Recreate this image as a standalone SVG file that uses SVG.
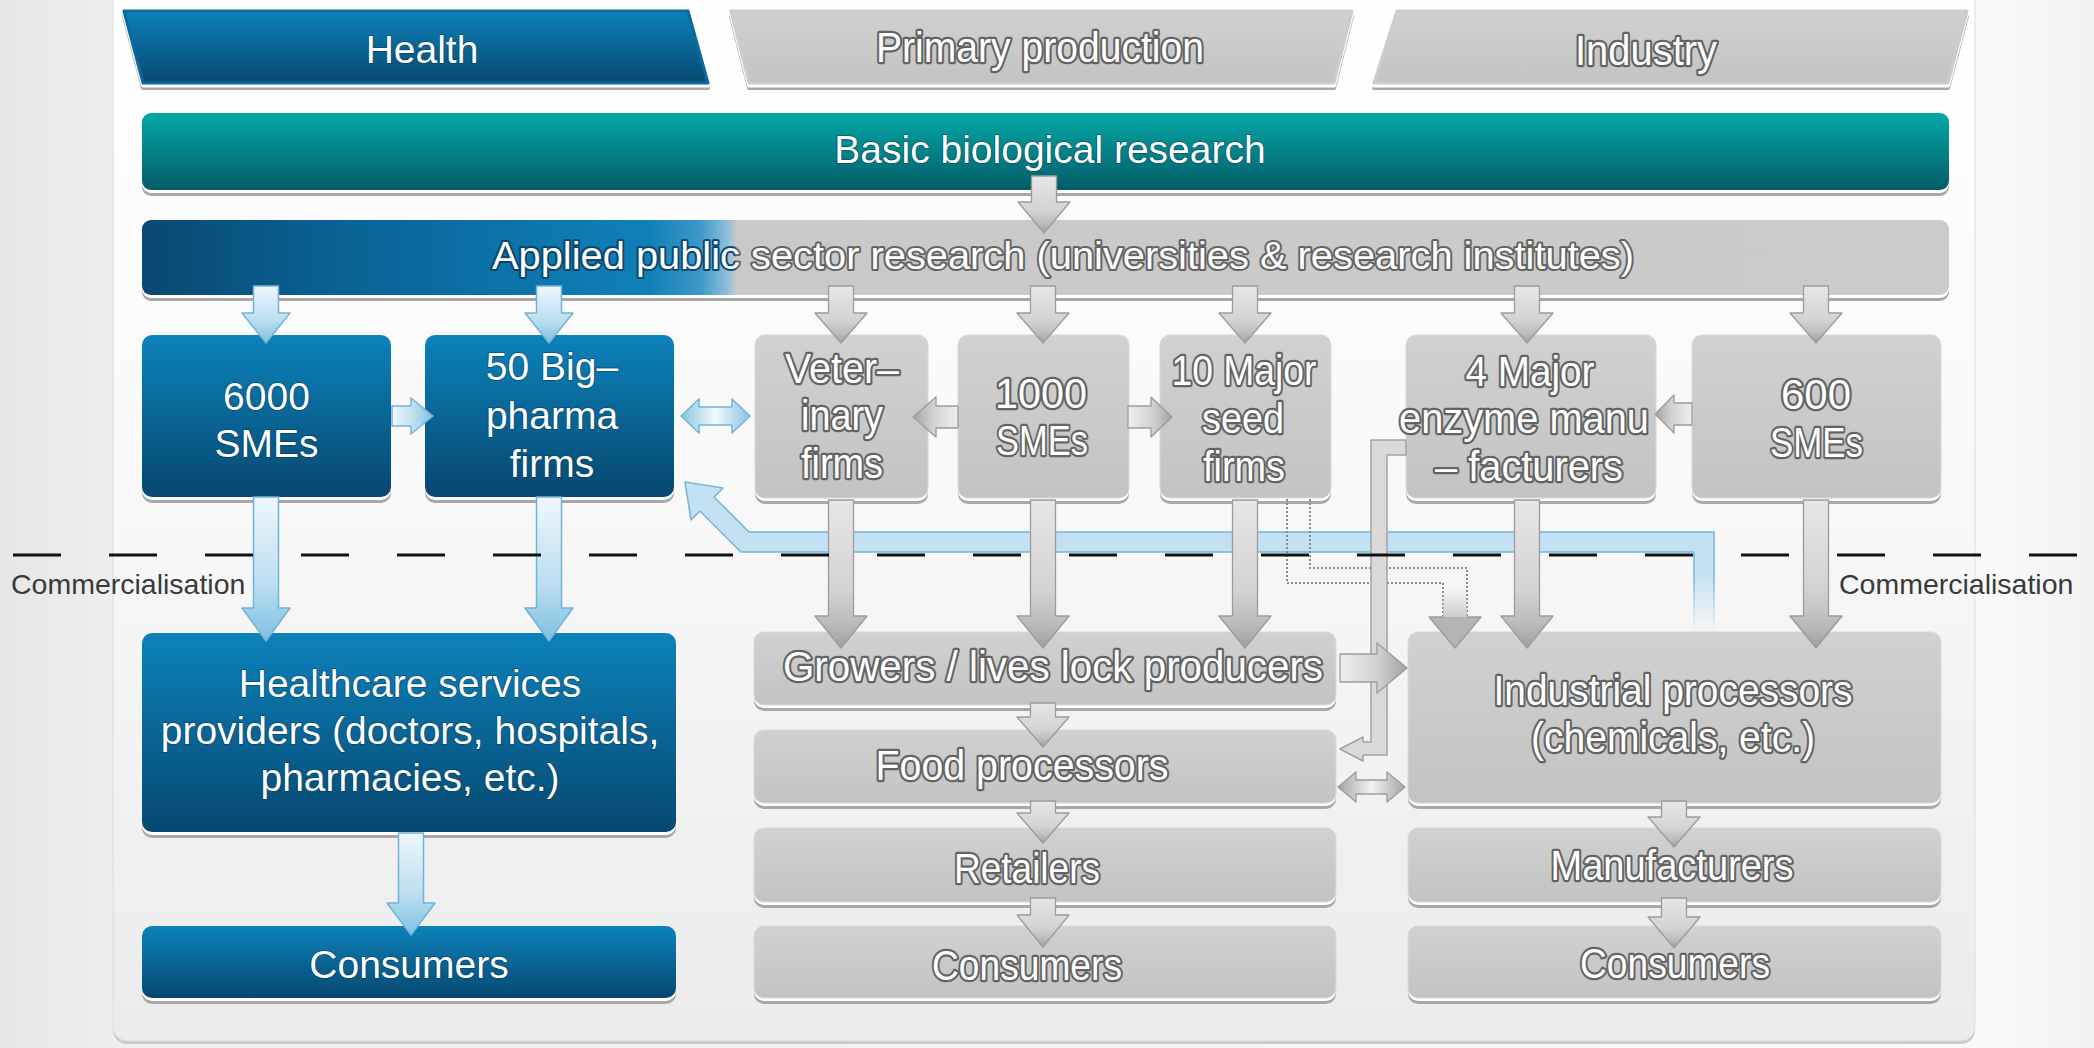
<svg xmlns="http://www.w3.org/2000/svg" width="2094" height="1048" viewBox="0 0 2094 1048">
  <defs>
    <style>
      .lbl{font-family:"Liberation Sans",Arial,"Noto Sans CJK KR",sans-serif;font-size:39px;text-anchor:middle}
      .wt{fill:#ffffff;stroke:#04324f;stroke-opacity:0.55;stroke-width:1.6px;paint-order:stroke;stroke-linejoin:round}
      .gt{fill:#ffffff;stroke:#636363;stroke-width:4.5px;stroke-linejoin:round;paint-order:stroke;font-size:42px}
      .com{font-family:"Liberation Sans",Arial,sans-serif;font-size:28.5px;fill:#3a3a3a}
      .shg{fill:#a8a8a8}
      .shw{fill:#ffffff}
      .gbox{fill:url(#gray);stroke:#d8d8d8;stroke-width:1}
      .bbox{fill:url(#blue)}
      .ab{stroke:#74b3d9;stroke-width:1.5;stroke-linejoin:round}
      .ag{stroke:#9c9c9c;stroke-width:1.3;stroke-linejoin:round}
    </style>
    <linearGradient id="bg" x1="0" y1="0" x2="1" y2="0">
      <stop offset="0" stop-color="#e6e6e6"/>
      <stop offset="0.055" stop-color="#eeeeee"/>
      <stop offset="0.95" stop-color="#fafafa"/>
      <stop offset="1" stop-color="#f2f2f2"/>
    </linearGradient>
    <linearGradient id="panel" x1="0" y1="0" x2="0" y2="1">
      <stop offset="0" stop-color="#ffffff"/>
      <stop offset="0.5" stop-color="#f8f8f8"/>
      <stop offset="1" stop-color="#ebebeb"/>
    </linearGradient>
    <linearGradient id="blue" x1="0" y1="0" x2="0" y2="1">
      <stop offset="0" stop-color="#0c82bb"/>
      <stop offset="1" stop-color="#064870"/>
    </linearGradient>
    <linearGradient id="teal" x1="0" y1="0" x2="0" y2="1">
      <stop offset="0" stop-color="#03a8a6"/>
      <stop offset="1" stop-color="#055c69"/>
    </linearGradient>
    <linearGradient id="gray" x1="0" y1="0" x2="0" y2="1">
      <stop offset="0" stop-color="#d1d1d1"/>
      <stop offset="1" stop-color="#c3c3c3"/>
    </linearGradient>
    <linearGradient id="applied" gradientUnits="userSpaceOnUse" x1="142" y1="0" x2="1949" y2="0">
      <stop offset="0" stop-color="#0a4870"/>
      <stop offset="0.087" stop-color="#0a5d8e"/>
      <stop offset="0.18" stop-color="#0b6fa5"/>
      <stop offset="0.28" stop-color="#1080b8"/>
      <stop offset="0.309" stop-color="#3d98c7"/>
      <stop offset="0.324" stop-color="#8ebfda"/>
      <stop offset="0.329" stop-color="#c9c9c9"/>
      <stop offset="1" stop-color="#cbcbcb"/>
    </linearGradient>
    <!-- outline of the applied-research label: dark over the blue part, grey over the rest -->
    <linearGradient id="appliedInk" gradientUnits="userSpaceOnUse" x1="142" y1="0" x2="1949" y2="0">
      <stop offset="0" stop-color="#083a5c"/>
      <stop offset="0.328" stop-color="#0b4a72"/>
      <stop offset="0.329" stop-color="#636363"/>
      <stop offset="1" stop-color="#636363"/>
    </linearGradient>
    <!-- arrow fills -->
    <linearGradient id="abV" x1="0" y1="0" x2="0" y2="1">
      <stop offset="0" stop-color="#eef7fc"/>
      <stop offset="0.6" stop-color="#bcdef0"/>
      <stop offset="1" stop-color="#7fc0e2"/>
    </linearGradient>
    <linearGradient id="abH" x1="0" y1="0" x2="1" y2="0">
      <stop offset="0" stop-color="#eef7fc"/>
      <stop offset="0.55" stop-color="#bcdef0"/>
      <stop offset="1" stop-color="#7fc0e2"/>
    </linearGradient>
    <linearGradient id="abD" x1="0" y1="0" x2="1" y2="0">
      <stop offset="0" stop-color="#86c3e3"/>
      <stop offset="0.5" stop-color="#f2f9fd"/>
      <stop offset="1" stop-color="#86c3e3"/>
    </linearGradient>
    <linearGradient id="agV" x1="0" y1="0" x2="0" y2="1">
      <stop offset="0" stop-color="#e6e6e6"/>
      <stop offset="0.6" stop-color="#d3d3d3"/>
      <stop offset="0.82" stop-color="#bdbdbd"/>
      <stop offset="1" stop-color="#9f9f9f"/>
    </linearGradient>
    <linearGradient id="agR" x1="0" y1="0" x2="1" y2="0">
      <stop offset="0" stop-color="#eeeeee"/>
      <stop offset="0.55" stop-color="#d2d2d2"/>
      <stop offset="1" stop-color="#a2a2a2"/>
    </linearGradient>
    <linearGradient id="agL" x1="1" y1="0" x2="0" y2="0">
      <stop offset="0" stop-color="#eeeeee"/>
      <stop offset="0.55" stop-color="#d2d2d2"/>
      <stop offset="1" stop-color="#a2a2a2"/>
    </linearGradient>
    <linearGradient id="agD" x1="0" y1="0" x2="1" y2="0">
      <stop offset="0" stop-color="#a4a4a4"/>
      <stop offset="0.5" stop-color="#f2f2f2"/>
      <stop offset="1" stop-color="#a4a4a4"/>
    </linearGradient>
    <linearGradient id="bandFill" gradientUnits="userSpaceOnUse" x1="0" y1="572" x2="0" y2="630">
      <stop offset="0" stop-color="#c3e1f3" stop-opacity="1"/>
      <stop offset="1" stop-color="#c3e1f3" stop-opacity="0"/>
    </linearGradient>
    <linearGradient id="bandLine" gradientUnits="userSpaceOnUse" x1="0" y1="572" x2="0" y2="630">
      <stop offset="0" stop-color="#76b6dc" stop-opacity="1"/>
      <stop offset="1" stop-color="#76b6dc" stop-opacity="0"/>
    </linearGradient>
    <linearGradient id="fadeShaft" gradientUnits="userSpaceOnUse" x1="0" y1="586" x2="0" y2="620">
      <stop offset="0" stop-color="#d6d6d6" stop-opacity="0"/>
      <stop offset="1" stop-color="#c4c4c4" stop-opacity="1"/>
    </linearGradient>
  </defs>

  <!-- backdrop and panel -->
  <rect x="0" y="0" width="2094" height="1048" fill="url(#bg)"/>
  <rect x="113" y="-14" width="1862" height="1058" rx="14" fill="#c9c9c9"/>
  <rect x="113" y="-14" width="1862" height="1055" rx="14" fill="url(#panel)" stroke="#dcdcdc" stroke-width="1"/>

  <!-- sector tabs -->
  <g id="tab-health">
    <path d="M124,16 H688 L708,88 H143 Z" class="shg" stroke="#a8a8a8" stroke-width="4" stroke-linejoin="round"/>
    <path d="M124,13.5 H688 L708,85.5 H143 Z" class="shw" stroke="#fff" stroke-width="4" stroke-linejoin="round"/>
    <path d="M124,11 H688 L708,83 H143 Z" fill="url(#blue)" stroke="#0a6a9c" stroke-width="3" stroke-linejoin="round"/>
    <text class="lbl wt" x="422" y="63" font-size="38">Health</text>
  </g>
  <g id="tab-primary">
    <path d="M731,16 H1352 L1334,88 H749 Z" class="shg" stroke="#a8a8a8" stroke-width="4" stroke-linejoin="round"/>
    <path d="M731,13.5 H1352 L1334,85.5 H749 Z" class="shw" stroke="#fff" stroke-width="4" stroke-linejoin="round"/>
    <path d="M731,11 H1352 L1334,83 H749 Z" fill="url(#gray)" stroke="#cccccc" stroke-width="3" stroke-linejoin="round"/>
    <text class="lbl gt" x="1040" y="62" textLength="328" lengthAdjust="spacingAndGlyphs">Primary production</text>
  </g>
  <g id="tab-industry">
    <path d="M1397,16 H1967 L1948,88 H1374 Z" class="shg" stroke="#a8a8a8" stroke-width="4" stroke-linejoin="round"/>
    <path d="M1397,13.5 H1967 L1948,85.5 H1374 Z" class="shw" stroke="#fff" stroke-width="4" stroke-linejoin="round"/>
    <path d="M1397,11 H1967 L1948,83 H1374 Z" fill="url(#gray)" stroke="#cccccc" stroke-width="3" stroke-linejoin="round"/>
    <text class="lbl gt" x="1646" y="65" textLength="142" lengthAdjust="spacingAndGlyphs">Industry</text>
  </g>

  <!-- research bars -->
  <g id="basic-research">
    <rect class="shg" x="142" y="119" width="1807" height="77" rx="9"/>
    <rect class="shw" x="142" y="116" width="1807" height="77" rx="9"/>
    <rect x="142" y="113" width="1807" height="77" rx="9" fill="url(#teal)"/>
    <text class="lbl wt" x="1050" y="163">Basic biological research</text>
  </g>
  <g id="applied-research">
    <rect class="shg" x="142" y="226" width="1807" height="75" rx="9"/>
    <rect class="shw" x="142" y="223" width="1807" height="75" rx="9"/>
    <rect x="142" y="220" width="1807" height="75" rx="9" fill="url(#applied)"/>
    <text class="lbl" x="1063" y="269" font-size="41" textLength="1142" lengthAdjust="spacingAndGlyphs" fill="#ffffff" stroke="url(#appliedInk)" stroke-width="4" stroke-linejoin="round" paint-order="stroke">Applied public sector research (universities &amp; research institutes)</text>
  </g>

  <!-- health column -->
  <g id="sme-6000">
    <rect class="shg" x="142" y="341" width="249" height="162" rx="10"/>
    <rect class="shw" x="142" y="338" width="249" height="162" rx="10"/>
    <rect class="bbox" x="142" y="335" width="249" height="162" rx="10"/>
    <text class="lbl wt" x="266.5" y="410" font-size="40">6000</text>
    <text class="lbl wt" x="266.5" y="457" font-size="40">SMEs</text>
  </g>
  <g id="big-pharma">
    <rect class="shg" x="425" y="341" width="249" height="162" rx="10"/>
    <rect class="shw" x="425" y="338" width="249" height="162" rx="10"/>
    <rect class="bbox" x="425" y="335" width="249" height="162" rx="10"/>
    <text class="lbl wt" x="552" y="380" font-size="40">50 Big–</text>
    <text class="lbl wt" x="552" y="429" font-size="40">pharma</text>
    <text class="lbl wt" x="552" y="477" font-size="40">firms</text>
  </g>
  <g id="healthcare-providers">
    <rect class="shg" x="142" y="639" width="534" height="199" rx="10"/>
    <rect class="shw" x="142" y="636" width="534" height="199" rx="10"/>
    <rect class="bbox" x="142" y="633" width="534" height="199" rx="10"/>
    <text class="lbl wt" x="410" y="697">Healthcare services</text>
    <text class="lbl wt" x="410" y="744">providers (doctors, hospitals,</text>
    <text class="lbl wt" x="410" y="791">pharmacies, etc.)</text>
  </g>
  <g id="consumers-health">
    <rect class="shg" x="142" y="932" width="534" height="72" rx="10"/>
    <rect class="shw" x="142" y="929" width="534" height="72" rx="10"/>
    <rect class="bbox" x="142" y="926" width="534" height="72" rx="10"/>
    <text class="lbl wt" x="409" y="978">Consumers</text>
  </g>

  <!-- primary production column -->
  <g id="veterinary">
    <rect class="shg" x="755" y="341" width="173" height="163" rx="10"/>
    <rect class="shw" x="755" y="338" width="173" height="163" rx="10"/>
    <rect class="gbox" x="755" y="335" width="173" height="163" rx="10"/>
    <text class="lbl gt" x="842" y="383" textLength="114" lengthAdjust="spacingAndGlyphs">Veter–</text>
    <text class="lbl gt" x="842" y="430" textLength="82" lengthAdjust="spacingAndGlyphs">inary</text>
    <text class="lbl gt" x="842" y="478" textLength="82" lengthAdjust="spacingAndGlyphs">firms</text>
  </g>
  <g id="sme-1000">
    <rect class="shg" x="958" y="341" width="171" height="163" rx="10"/>
    <rect class="shw" x="958" y="338" width="171" height="163" rx="10"/>
    <rect class="gbox" x="958" y="335" width="171" height="163" rx="10"/>
    <text class="lbl gt" x="1041" y="408" textLength="92" lengthAdjust="spacingAndGlyphs">1000</text>
    <text class="lbl gt" x="1042" y="455" textLength="92" lengthAdjust="spacingAndGlyphs">SMEs</text>
  </g>
  <g id="seed-firms">
    <rect class="shg" x="1160" y="341" width="171" height="163" rx="10"/>
    <rect class="shw" x="1160" y="338" width="171" height="163" rx="10"/>
    <rect class="gbox" x="1160" y="335" width="171" height="163" rx="10"/>
    <text class="lbl gt" x="1244" y="385" textLength="145" lengthAdjust="spacingAndGlyphs">10 Major</text>
    <text class="lbl gt" x="1243" y="433" textLength="82" lengthAdjust="spacingAndGlyphs">seed</text>
    <text class="lbl gt" x="1244" y="481" textLength="82" lengthAdjust="spacingAndGlyphs">firms</text>
  </g>
  <g id="growers">
    <rect class="shg" x="754" y="638" width="582" height="73" rx="10"/>
    <rect class="shw" x="754" y="635" width="582" height="73" rx="10"/>
    <rect class="gbox" x="754" y="632" width="582" height="73" rx="10"/>
    <text class="lbl gt" x="1053" y="681" textLength="540" lengthAdjust="spacingAndGlyphs">Growers / lives lock producers</text>
  </g>
  <g id="food-processors">
    <rect class="shg" x="754" y="736" width="582" height="73" rx="10"/>
    <rect class="shw" x="754" y="733" width="582" height="73" rx="10"/>
    <rect class="gbox" x="754" y="730" width="582" height="73" rx="10"/>
    <text class="lbl gt" x="1022" y="780" textLength="293" lengthAdjust="spacingAndGlyphs">Food processors</text>
  </g>
  <g id="retailers">
    <rect class="shg" x="754" y="834" width="582" height="74" rx="10"/>
    <rect class="shw" x="754" y="831" width="582" height="74" rx="10"/>
    <rect class="gbox" x="754" y="828" width="582" height="74" rx="10"/>
    <text class="lbl gt" x="1027" y="883" textLength="146" lengthAdjust="spacingAndGlyphs">Retailers</text>
  </g>
  <g id="consumers-primary">
    <rect class="shg" x="754" y="932" width="582" height="72" rx="10"/>
    <rect class="shw" x="754" y="929" width="582" height="72" rx="10"/>
    <rect class="gbox" x="754" y="926" width="582" height="72" rx="10"/>
    <text class="lbl gt" x="1027" y="980" textLength="190" lengthAdjust="spacingAndGlyphs">Consumers</text>
  </g>

  <!-- industry column -->
  <g id="enzyme-manufacturers">
    <rect class="shg" x="1406" y="341" width="250" height="163" rx="10"/>
    <rect class="shw" x="1406" y="338" width="250" height="163" rx="10"/>
    <rect class="gbox" x="1406" y="335" width="250" height="163" rx="10"/>
    <text class="lbl gt" x="1530" y="386" textLength="129" lengthAdjust="spacingAndGlyphs">4 Major</text>
    <text class="lbl gt" x="1524" y="433" textLength="250" lengthAdjust="spacingAndGlyphs">enzyme manu</text>
    <text class="lbl gt" x="1529" y="481" textLength="188" lengthAdjust="spacingAndGlyphs">– facturers</text>
  </g>
  <g id="sme-600">
    <rect class="shg" x="1692" y="341" width="249" height="163" rx="10"/>
    <rect class="shw" x="1692" y="338" width="249" height="163" rx="10"/>
    <rect class="gbox" x="1692" y="335" width="249" height="163" rx="10"/>
    <text class="lbl gt" x="1816" y="409" textLength="70" lengthAdjust="spacingAndGlyphs">600</text>
    <text class="lbl gt" x="1816.5" y="457" textLength="93" lengthAdjust="spacingAndGlyphs">SMEs</text>
  </g>
  <g id="industrial-processors">
    <rect class="shg" x="1408" y="638" width="533" height="171" rx="10"/>
    <rect class="shw" x="1408" y="635" width="533" height="171" rx="10"/>
    <rect class="gbox" x="1408" y="632" width="533" height="171" rx="10"/>
    <text class="lbl gt" x="1673" y="705" textLength="359" lengthAdjust="spacingAndGlyphs">Industrial processors</text>
    <text class="lbl gt" x="1673" y="752" textLength="284" lengthAdjust="spacingAndGlyphs">(chemicals, etc.)</text>
  </g>
  <g id="manufacturers">
    <rect class="shg" x="1408" y="834" width="533" height="74" rx="10"/>
    <rect class="shw" x="1408" y="831" width="533" height="74" rx="10"/>
    <rect class="gbox" x="1408" y="828" width="533" height="74" rx="10"/>
    <text class="lbl gt" x="1672" y="880" textLength="243" lengthAdjust="spacingAndGlyphs">Manufacturers</text>
  </g>
  <g id="consumers-industry">
    <rect class="shg" x="1408" y="932" width="533" height="72" rx="10"/>
    <rect class="shw" x="1408" y="929" width="533" height="72" rx="10"/>
    <rect class="gbox" x="1408" y="926" width="533" height="72" rx="10"/>
    <text class="lbl gt" x="1675" y="978" textLength="190" lengthAdjust="spacingAndGlyphs">Consumers</text>
  </g>

  <!-- connectors -->
  <g id="connectors">
    <!-- feedback from industrial processors back to big pharma -->
    <path d="M1694,630 V552 H741 L700,511 L691,520 L685,482 L723,488 L714,497 L749,532 H1714 V630 Z" fill="url(#bandFill)" stroke="url(#bandLine)" stroke-width="1.6" stroke-linejoin="round"/>

    <!-- health flows -->
    <path class="ab" fill="url(#abV)" d="M253.5,286 H278.5 V313 H290 L266,343 L242,313 H253.5 Z"/>
    <path class="ab" fill="url(#abV)" d="M536.5,286 H561.5 V313 H573 L549,343 L525,313 H536.5 Z"/>
    <path class="ab" fill="url(#abV)" d="M253.5,497 H278.5 V608 H290 L266,641 L242,608 H253.5 Z"/>
    <path class="ab" fill="url(#abV)" d="M536.5,497 H561.5 V608 H573 L549,641 L525,608 H536.5 Z"/>
    <path class="ab" fill="url(#abV)" d="M398.5,833 H423.5 V903 H435 L411,935 L387,903 H398.5 Z"/>
    <path class="ab" fill="url(#abH)" d="M392,406 H411 V398 L433,416 L411,434 V426 H392 Z"/>
    <path class="ab" fill="url(#abD)" d="M681,416 L699,399 V407 H732 V399 L750,416 L732,433 V425 H699 V433 Z"/>

    <!-- research to firms -->
    <path class="ag" fill="url(#agV)" d="M1031.5,176 H1056.5 V202 H1070 L1044,233 L1018,202 H1031.5 Z"/>
    <path class="ag" fill="url(#agV)" d="M828.5,286 H853.5 V313 H867 L841,343 L815,313 H828.5 Z"/>
    <path class="ag" fill="url(#agV)" d="M1030.5,286 H1055.5 V313 H1069 L1043,343 L1017,313 H1030.5 Z"/>
    <path class="ag" fill="url(#agV)" d="M1232.5,286 H1257.5 V313 H1271 L1245,343 L1219,313 H1232.5 Z"/>
    <path class="ag" fill="url(#agV)" d="M1514.5,286 H1539.5 V313 H1553 L1527,343 L1501,313 H1514.5 Z"/>
    <path class="ag" fill="url(#agV)" d="M1803.5,286 H1828.5 V313 H1842 L1816,343 L1790,313 H1803.5 Z"/>

    <!-- sideways flows between firms -->
    <path class="ag" fill="url(#agL)" d="M958,406 H936 V397 L913,417 L936,437 V428 H958 Z"/>
    <path class="ag" fill="url(#agR)" d="M1128,406 H1151 V397 L1172,417 L1151,437 V428 H1128 Z"/>
    <path class="ag" fill="url(#agL)" d="M1692,403 H1674 V395 L1655,414 L1674,433 V425 H1692 Z"/>

    <!-- firms to commercial users -->
    <path class="ag" fill="url(#agV)" d="M828.5,500 H853.5 V616 H867 L841,648 L815,616 H828.5 Z"/>
    <path class="ag" fill="url(#agV)" d="M1030.5,500 H1055.5 V616 H1069 L1043,648 L1017,616 H1030.5 Z"/>
    <path class="ag" fill="url(#agV)" d="M1232.5,500 H1257.5 V616 H1271 L1245,648 L1219,616 H1232.5 Z"/>
    <path class="ag" fill="url(#agV)" d="M1514.5,500 H1539.5 V616 H1553 L1527,648 L1501,616 H1514.5 Z"/>
    <path class="ag" fill="url(#agV)" d="M1803.5,500 H1828.5 V616 H1842 L1816,648 L1790,616 H1803.5 Z"/>

    <!-- seed firms to industrial processors (dotted channel) -->
    <path d="M1287,499 V583 H1443 V618" fill="none" stroke="#8a8a8a" stroke-width="2" stroke-dasharray="2 2"/>
    <path d="M1310,499 V568 H1467 V618" fill="none" stroke="#8a8a8a" stroke-width="2" stroke-dasharray="2 2"/>
    <rect x="1443" y="584" width="24" height="34" fill="url(#fadeShaft)"/>
    <path class="ag" fill="#b4b4b4" d="M1443,617 H1429 L1455,648 L1481,617 H1467"/>

    <!-- enzyme manufacturers to food processors -->
    <path d="M1406,440 H1371 V742 H1363 V737 L1340,749 L1363,761 V755 H1387 V455 H1406 Z" fill="#d9d9d9" stroke="#a2a2a2" stroke-width="1.5" stroke-linejoin="round"/>

    <!-- primary chain -->
    <path class="ag" fill="url(#agR)" d="M1340,654 H1377 V643 L1407,668 L1377,693 V682 H1340 Z"/>
    <path class="ag" fill="url(#agD)" d="M1338,787 L1356,772 V780 H1387 V772 L1405,787 L1387,802 V794 H1356 V802 Z"/>
    <path class="ag" fill="url(#agV)" d="M1030.5,703 H1055.5 V717 H1069 L1043,747 L1017,717 H1030.5 Z"/>
    <path class="ag" fill="url(#agV)" d="M1030.5,801 H1055.5 V813 H1069 L1043,843 L1017,813 H1030.5 Z"/>
    <path class="ag" fill="url(#agV)" d="M1030.5,898 H1055.5 V915 H1069 L1043,947 L1017,915 H1030.5 Z"/>

    <!-- industry chain -->
    <path class="ag" fill="url(#agV)" d="M1661.5,801 H1686.5 V817 H1700 L1674,847 L1648,817 H1661.5 Z"/>
    <path class="ag" fill="url(#agV)" d="M1661.5,898 H1686.5 V917 H1700 L1674,948 L1648,917 H1661.5 Z"/>
  </g>

  <!-- commercialisation boundary -->
  <g id="commercialisation">
    <line x1="13" y1="555" x2="2094" y2="555" stroke="#111111" stroke-width="3" stroke-dasharray="48 48"/>
    <text class="com" x="11" y="594">Commercialisation</text>
    <text class="com" x="1839" y="594">Commercialisation</text>
  </g>
</svg>
